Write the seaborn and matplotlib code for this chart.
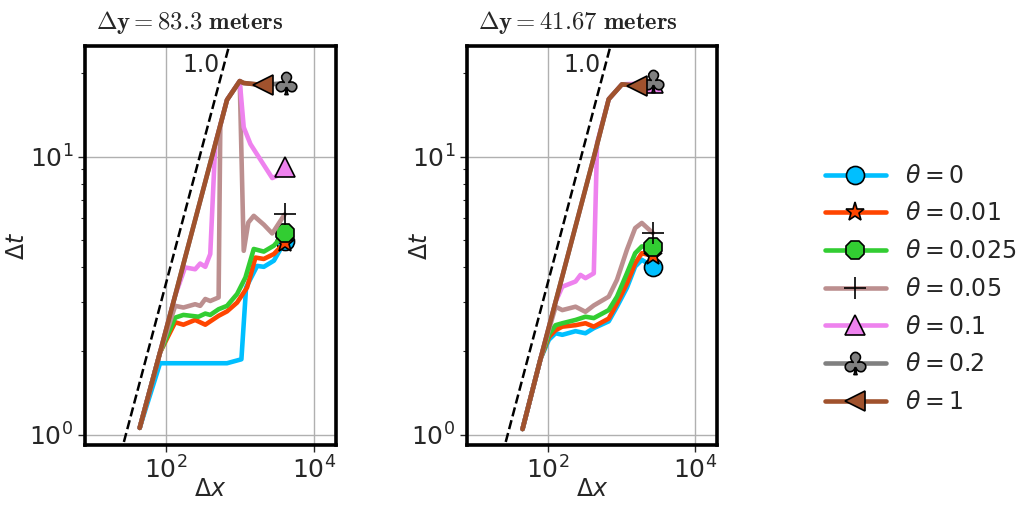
import numpy as np
import matplotlib
matplotlib.use("Agg")
import matplotlib.pyplot as plt
import seaborn as sns
from matplotlib.lines import Line2D
from matplotlib.ticker import FixedLocator, NullLocator, LogLocator

sns.set_style("ticks")
plt.rcParams['font.family'] = ['DejaVu Sans']
plt.rcParams['mathtext.fontset'] = 'dejavusans'

# ---------------- data ----------------
thetas = ['0', '0.01', '0.025', '0.05', '0.1', '0.2', '1']
colors = ['#00BFFF', '#FF4500', '#32CD32', '#BC8F8F', '#EE82EE', '#808080', '#A0522D']
markers = ['o', '*', '8', '+', '^', r'$\clubsuit$', '<']
titles = [r'$\mathbf{\Delta y = 83.3\ meters}$', r'$\mathbf{\Delta y = 41.67\ meters}$']

# left panel (dy = 83.3 m)
L_x0 = [44, 83, 669, 1048, 1213, 1713, 2108, 2885, 3556, 4030]
L_y0 = [1.06, 1.81, 1.81, 1.87, 3.39, 4.05, 4.02, 4.23, 4.66, 4.99]
L_x1 = [44, 83, 133, 172, 248, 340, 515, 669, 916, 1252, 1625, 2108, 2885, 4030]
L_y1 = [1.06, 1.98, 2.54, 2.49, 2.59, 2.49, 2.68, 2.78, 2.99, 3.39, 4.34, 4.29, 4.47, 4.90]
L_x2 = [44, 83, 133, 172, 275, 340, 397, 515, 669, 916, 1188, 1541, 2108, 2885, 4030]
L_y2 = [1.06, 1.98, 2.64, 2.70, 2.66, 2.73, 2.70, 2.83, 2.91, 3.21, 3.68, 4.66, 4.56, 4.79, 5.30]
L_x3 = [44, 83, 133, 172, 248, 290, 340, 397, 515, 543, 669, 995, 1127, 1300, 1541, 2108, 2740, 4030]
L_y3 = [1.06, 1.98, 2.91, 2.87, 2.95, 2.91, 3.08, 3.03, 3.12, 12.9, 16.0, 18.7, 4.59, 5.8, 6.13, 5.7, 5.3, 6.2]
L_x4 = [44, 83, 133, 181, 248, 290, 340, 397, 464, 669, 995, 1127, 1390, 2003, 2740, 3205, 4030]
L_y4 = [1.06, 1.98, 3.17, 4.0, 3.94, 4.13, 4.02, 4.47, 11.1, 16.0, 18.7, 12.75, 11.1, 9.54, 8.38, 8.54, 9.2]
L_x5 = [44, 83, 133, 181, 248, 340, 464, 669, 995, 1127, 2065, 4150]
L_y5 = [1.06, 1.98, 3.17, 4.33, 5.93, 8.13, 11.1, 16.0, 18.7, 18.4, 18.1, 18.4]
L_x6 = [44, 83, 133, 181, 248, 340, 464, 669, 995, 1127, 2065]
L_y6 = [1.06, 1.98, 3.17, 4.33, 5.93, 8.13, 11.1, 16.0, 18.7, 18.4, 18.1]

# right panel (dy = 41.67 m)
R_x0 = [45.5, 80, 104, 128, 158, 239, 326, 423, 675, 874, 1193, 1545, 1902, 2680]
R_y0 = [1.05, 1.88, 2.2, 2.32, 2.29, 2.36, 2.32, 2.42, 2.56, 2.89, 3.38, 4.03, 4.26, 4.03]
R_x1 = [45.5, 80, 104, 128, 158, 239, 326, 423, 675, 874, 1193, 1545, 1902, 2680]
R_y1 = [1.05, 1.88, 2.25, 2.38, 2.45, 2.48, 2.52, 2.45, 2.62, 2.97, 3.5, 4.14, 4.5, 4.40]
R_x2 = [45.5, 80, 104, 128, 158, 239, 326, 423, 675, 874, 1193, 1545, 1902, 2680]
R_y2 = [1.05, 1.88, 2.3, 2.48, 2.52, 2.59, 2.66, 2.63, 2.81, 3.14, 3.81, 4.50, 4.76, 4.72]
R_x3 = [45.5, 80, 128, 158, 239, 326, 423, 675, 874, 1193, 1545, 1902, 2680]
R_y3 = [1.05, 1.88, 2.89, 2.81, 2.89, 2.77, 2.92, 3.14, 3.61, 4.63, 5.54, 5.78, 5.32]
R_x4 = [45.5, 80, 128, 158, 239, 279, 326, 423, 469, 675, 1021, 2680]
R_y4 = [1.05, 1.88, 3.01, 3.41, 3.56, 3.76, 3.66, 3.81, 11.2, 16.1, 18.2, 18.4]
R_x5 = [45.5, 80, 128, 239, 423, 675, 1021, 1630, 2680]
R_y5 = [1.05, 1.88, 3.01, 5.62, 9.95, 16.1, 18.2, 18.0, 18.7]
R_x6 = [45.5, 80, 128, 239, 423, 675, 1021, 1630]
R_y6 = [1.05, 1.88, 3.01, 5.62, 9.95, 16.1, 18.2, 18.0]

ref_x = np.array([10.0, 2000.0])   # slope-1 reference line
ref_ratio = 28.5

panels = [
    [(L_x0, L_y0), (L_x1, L_y1), (L_x2, L_y2), (L_x3, L_y3), (L_x4, L_y4), (L_x5, L_y5), (L_x6, L_y6)],
    [(R_x0, R_y0), (R_x1, R_y1), (R_x2, R_y2), (R_x3, R_y3), (R_x4, R_y4), (R_x5, R_y5), (R_x6, R_y6)],
]

msizes = [13, 14, 14, 16, 14, 16, 14]
FS = 17

fig = plt.figure(figsize=(10.21, 5.05), dpi=100)
ax_rects = [[85 / 1021, 60 / 505, 251 / 1021, 399 / 505],
            [467 / 1021, 60 / 505, 250 / 1021, 399 / 505]]
ylabel_x = [-0.222, -0.14]

for p, series in enumerate(panels):
    ax = fig.add_axes(ax_rects[p])
    ax.set_xscale('log')
    ax.set_yscale('log')
    ax.plot(ref_x, ref_x / ref_ratio, color='k', ls='--', lw=1.8, zorder=3)
    for i, (xs, ys) in enumerate(series):
        mfc = 'k' if markers[i] == '+' else colors[i]
        sns.lineplot(x=xs, y=ys, ax=ax, color=colors[i], lw=3.3, marker=markers[i],
                     markevery=[-1], markersize=msizes[i], markerfacecolor=mfc,
                     markeredgecolor='k', markeredgewidth=1.2,
                     estimator=None, sort=False, zorder=4)
    ax.text(295, 21.4, '1.0', ha='center', va='center', fontsize=FS)
    ax.set_xlim(8, 20000)
    ax.set_ylim(0.92, 25)
    ax.xaxis.set_major_locator(FixedLocator([1e2, 1e4]))
    ax.xaxis.set_minor_locator(NullLocator())
    ax.yaxis.set_major_locator(FixedLocator([1e0, 1e1]))
    ax.yaxis.set_minor_locator(LogLocator(base=10, subs=np.arange(2, 10)))
    ax.grid(True, which='major', color='#b0b0b0', lw=1)
    ax.tick_params(which='major', direction='out', length=5, width=1, labelsize=18)
    ax.tick_params(which='minor', direction='out', length=3, width=0.8)
    for s in ax.spines.values():
        s.set_linewidth(2.6)
        s.set_color('k')
    ax.set_xlabel(r'$\Delta x$', fontsize=FS)
    ax.xaxis.set_label_coords(0.5, -0.08)
    ax.set_ylabel(r'$\Delta t$', fontsize=FS)
    ax.yaxis.set_label_coords(ylabel_x[p], 0.5)
    t = ax.set_title(titles[p], loc='left', fontsize=17.8, math_fontfamily='cm', pad=12)
    t.set_x(0.044)
    if ax.get_legend() is not None:
        ax.get_legend().remove()

handles = []
for i in range(len(thetas)):
    mfc = 'k' if markers[i] == '+' else colors[i]
    handles.append(Line2D([], [], color=colors[i], lw=3.3, marker=markers[i],
                          markersize=msizes[i], markerfacecolor=mfc,
                          markeredgecolor='k', markeredgewidth=1.2))
labels = [r'$\theta = %s$' % t for t in thetas]
fig.legend(handles, labels, loc='center left', bbox_to_anchor=(0.787, 0.428),
           frameon=False, fontsize=FS, handlelength=2.6, handletextpad=0.8,
           labelspacing=0.58)

fig.savefig('out.png', dpi=100)
